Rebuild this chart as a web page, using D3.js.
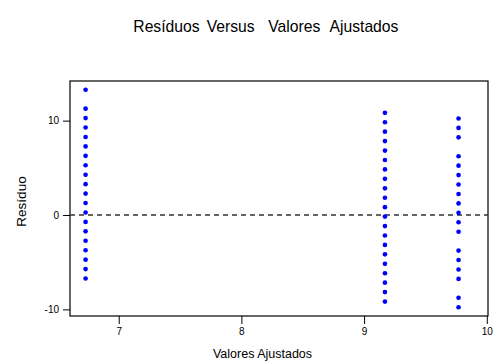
<!DOCTYPE html>
<html><head><meta charset="utf-8">
<script src="https://cdn.jsdelivr.net/npm/d3@7"></script>
<style>body{margin:0;background:#fff}svg{display:block}text{font-family:"Liberation Sans",Arial,sans-serif;fill:#000}</style>
</head><body>
<script>
const fitted = [6.73, 9.17, 9.77];
const resid1 = [13.27, 11.27, 10.27, 9.27, 8.27, 7.27, 6.27, 5.27, 4.27, 3.27, 2.27, 1.27, 0.27, -0.73, -1.73, -2.73, -3.73, -4.73, -5.73, -6.73];
const resid2 = [10.83, 9.83, 8.83, 7.83, 6.83, 5.83, 4.83, 3.83, 2.83, 1.83, 0.83, -0.17, -1.17, -2.17, -3.17, -4.17, -5.17, -6.17, -7.17, -8.17, -9.17];
const resid3 = [10.23, 9.23, 8.23, 6.23, 5.23, 4.23, 3.23, 2.23, 1.23, 0.23, -0.77, -1.77, -3.77, -4.77, -5.77, -6.77, -8.77, -9.77];
const xTicks = [7, 8, 9, 10];
const yTicks = [-10, 0, 10];
const titleWords = ["Resíduos", "Versus", "Valores", "Ajustados"];
const titleWordX = [133.3, 206.7, 268.3, 329.5];

const W = 494, H = 361;
const L = 70, R = 488, T = 81, B = 316;
const svg = d3.select("body").append("svg").attr("width", W).attr("height", H);

const x = d3.scaleLinear().domain([6.603, 10.01]).range([L, R]);
const y = d3.scaleLinear().domain([-10.7, 14.2]).range([B, T]);
const fmt = d => String(d);

// frame
svg.append("rect").attr("x", L).attr("y", T).attr("width", R - L).attr("height", B - T)
  .attr("fill", "none").attr("stroke", "#000").attr("stroke-width", 1.2);

// axes
const xa = svg.append("g").attr("transform", `translate(0,${B})`)
  .call(d3.axisBottom(x).tickValues(xTicks).tickFormat(fmt).tickSize(8).tickPadding(4));
xa.select(".domain").remove();
xa.selectAll("text").attr("font-size", 10).attr("font-family", "Liberation Sans, Arial, sans-serif");
xa.selectAll("line").attr("stroke", "#000");

const ya = svg.append("g").attr("transform", `translate(${L},0)`)
  .call(d3.axisLeft(y).tickValues(yTicks).tickFormat(fmt).tickSize(7).tickPadding(4));
ya.select(".domain").remove();
ya.selectAll("text").attr("font-size", 10).attr("font-family", "Liberation Sans, Arial, sans-serif");
ya.selectAll("line").attr("stroke", "#000");

// zero reference line
svg.append("line").attr("x1", L).attr("x2", R).attr("y1", y(0)).attr("y2", y(0))
  .attr("stroke", "#333").attr("stroke-width", 1.3).attr("stroke-dasharray", "5,4");

// points
const pts = [];
[resid1, resid2, resid3].forEach((arr, i) => arr.forEach(r => pts.push({fx: fitted[i], r})));
svg.append("g").selectAll("path").data(pts).join("path")
  .attr("transform", d => `translate(${x(d.fx)},${y(d.r)})`)
  .attr("d", d3.symbol().type(d3.symbolCircle).size(17))
  .attr("fill", "#0000ff");

// titles
const tt = svg.append("text").attr("y", 32).attr("font-size", 15.7);
tt.selectAll("tspan").data(titleWords).join("tspan")
  .attr("x", (d, i) => titleWordX[i]).text(d => d);
svg.append("text").attr("x", 262.5).attr("y", 357.5).attr("text-anchor", "middle")
  .attr("font-size", 12.5).text("Valores Ajustados");
svg.append("text").attr("transform", "translate(25.5,201.5) rotate(-90)").attr("text-anchor", "middle")
  .attr("font-size", 13.5).text("Resíduo");
</script>
</body></html>
